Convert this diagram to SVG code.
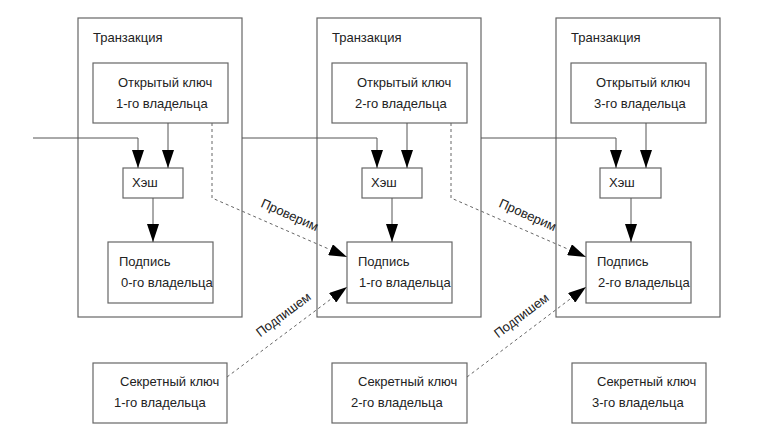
<svg xmlns="http://www.w3.org/2000/svg" width="775" height="426" viewBox="0 0 775 426">
<style>
.box{fill:#fff;stroke:#666;stroke-width:1.2}
.tx{fill:none;stroke:#666;stroke-width:1.2}
.t{font-family:"Liberation Sans",Arial,sans-serif;font-size:13px;fill:#222}
.ln{fill:none;stroke:#555;stroke-width:1}
.ds{fill:none;stroke:#666;stroke-width:1;stroke-dasharray:3,3}
</style>
<defs>
<marker id="ah" viewBox="0 0 18 12" refX="18" refY="6" markerWidth="18" markerHeight="12" markerUnits="userSpaceOnUse" orient="auto">
<path d="M0,0 L18,6 L0,12 z" fill="#000"/>
</marker>
</defs>
<rect width="775" height="426" fill="#fff"/>
<g id="tx1"><rect class="tx" x="78" y="18" width="164" height="299"/><text class="t" x="93" y="42">Транзакция</text></g>
<g id="tx2"><rect class="tx" x="317" y="18" width="164" height="299"/><text class="t" x="332" y="42">Транзакция</text></g>
<g id="tx3"><rect class="tx" x="556" y="18" width="164" height="299"/><text class="t" x="571" y="42">Транзакция</text></g>
<g id="pk1"><rect class="box" x="93" y="63" width="135" height="60"/><text class="t" x="118" y="87">Открытый ключ</text><text class="t" x="116" y="108">1-го владельца</text></g>
<g id="pk2"><rect class="box" x="332" y="63" width="135" height="60"/><text class="t" x="357" y="87">Открытый ключ</text><text class="t" x="355" y="108">2-го владельца</text></g>
<g id="pk3"><rect class="box" x="571" y="63" width="135" height="60"/><text class="t" x="596" y="87">Открытый ключ</text><text class="t" x="594" y="108">3-го владельца</text></g>
<g id="h1"><rect class="box" x="123" y="168" width="60" height="30"/><text class="t" x="132" y="187">Хэш</text></g>
<g id="h2"><rect class="box" x="362" y="168" width="60" height="30"/><text class="t" x="371" y="187">Хэш</text></g>
<g id="h3"><rect class="box" x="600" y="168" width="61" height="30"/><text class="t" x="609" y="187">Хэш</text></g>
<g id="s1"><rect class="box" x="108" y="242" width="105" height="61"/><text class="t" x="119" y="266">Подпись</text><text class="t" x="121" y="287">0-го владельца</text></g>
<g id="s2"><rect class="box" x="347" y="242" width="105" height="61"/><text class="t" x="358" y="266">Подпись</text><text class="t" x="359" y="287">1-го владельца</text></g>
<g id="s3"><rect class="box" x="586" y="242" width="105" height="61"/><text class="t" x="597" y="266">Подпись</text><text class="t" x="598" y="287">2-го владельца</text></g>
<g id="sk1"><rect class="box" x="93" y="363" width="134" height="60"/><text class="t" x="120" y="386">Секретный ключ</text><text class="t" x="114" y="407">1-го владельца</text></g>
<g id="sk2"><rect class="box" x="332" y="363" width="135" height="60"/><text class="t" x="358" y="386">Секретный ключ</text><text class="t" x="351" y="407">2-го владельца</text></g>
<g id="sk3"><rect class="box" x="572" y="363" width="134" height="60"/><text class="t" x="597" y="386">Секретный ключ</text><text class="t" x="592" y="407">3-го владельца</text></g>
<g id="connectors">
<path class="ln" d="M33,138 H138 V168" marker-end="url(#ah)"/>
<path class="ln" d="M168,123 V168" marker-end="url(#ah)"/>
<path class="ln" d="M153,198 V242" marker-end="url(#ah)"/>
<path class="ln" d="M242,138 H377 V168" marker-end="url(#ah)"/>
<path class="ln" d="M407,123 V168" marker-end="url(#ah)"/>
<path class="ln" d="M392,198 V242" marker-end="url(#ah)"/>
<path class="ln" d="M481,138 H616 V168" marker-end="url(#ah)"/>
<path class="ln" d="M646,123 V168" marker-end="url(#ah)"/>
<path class="ln" d="M631,198 V242" marker-end="url(#ah)"/>
<path class="ds" d="M212,123 V198 L347,257" marker-end="url(#ah)"/>
<path class="ds" d="M451,123 V198 L586,257" marker-end="url(#ah)"/>
<path class="ds" d="M227,377 L347,287" marker-end="url(#ah)"/>
<path class="ds" d="M467,377 L586,287" marker-end="url(#ah)"/>
<text class="t" text-anchor="middle" x="288" y="219" transform="rotate(24 288 219)">Проверим</text>
<text class="t" text-anchor="middle" x="526" y="219" transform="rotate(24 526 219)">Проверим</text>
<text class="t" text-anchor="middle" x="286" y="318" transform="rotate(-37 286 318)">Подпишем</text>
<text class="t" text-anchor="middle" x="524" y="319" transform="rotate(-37 524 319)">Подпишем</text>
</g>
</svg>
